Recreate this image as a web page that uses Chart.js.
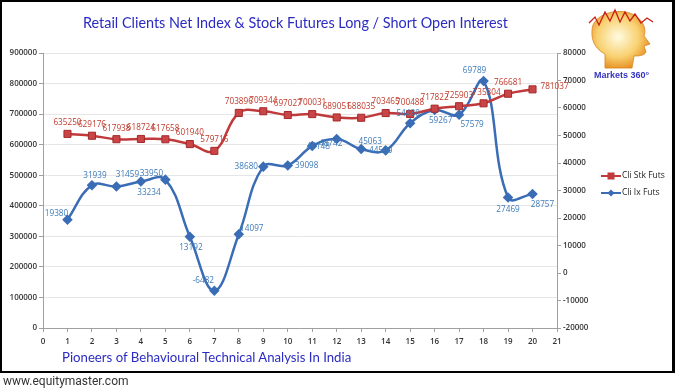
<!DOCTYPE html>
<html>
<head>
<meta charset="utf-8">
<script src="https://cdn.jsdelivr.net/npm/chart.js@4.4.0/dist/chart.umd.min.js"></script>
<style>
body { margin: 0; background: #fff; }
#wrap { position: relative; width: 675px; height: 391px; overflow: hidden; background: #fff; }
#chart { position: absolute; left: 0; top: 0; }
#frame { position: absolute; left: 0; top: 0; width: 675px; height: 373px; box-sizing: border-box;
  border: 2px solid #000; border-right-width: 3px; pointer-events: none; }
.txt { position: absolute; white-space: nowrap; }
#title { left: 83px; top: 14px; font: 14.4px Lato, sans-serif; color: #2b2bc4; }
#tagline { left: 62px; top: 349px; font: 13.2px Lato, sans-serif; color: #2b2bc4; }
#url { left: 3px; top: 374px; font: 12px Roboto, sans-serif; color: #333; }
#brand { left: 594px; top: 70px; font: bold 9px "Liberation Sans", sans-serif; color: #3535c0; }
#logo { position: absolute; left: 585px; top: 6px; }
</style>
</head>
<body>
<div id="wrap">
  <canvas id="chart" width="675" height="391"></canvas>
  <div id="frame"></div>
  <div id="title" class="txt">Retail Clients Net Index &amp; Stock Futures Long / Short Open Interest</div>
  <div id="tagline" class="txt">Pioneers of Behavioural Technical Analysis In India</div>
  <div id="url" class="txt">www.equitymaster.com</div>
  <svg id="logo" width="72" height="64" viewBox="0 0 72 64">
    <defs>
      <radialGradient id="hg" cx="45%" cy="45%" r="60%">
        <stop offset="0" stop-color="#fffbe0"/>
        <stop offset="0.6" stop-color="#f8d070"/>
        <stop offset="1" stop-color="#e58a1a"/>
      </radialGradient>
    </defs>
    <path d="M20 62 L20 48 C8 42 5 30 8 19 C14 5 40 1 52 11 C60 17 61 25 59 30 L65 38 L59 40 L61 46 C59 50 53 50 49 50 L47 62 Z" fill="url(#hg)" stroke="#d8841c" stroke-width="0.8"/>
    <polyline points="4,17 10,11 14,19 20,6 25,15 30,4 35,16 40,6 45,15 50,8 56,17 62,12 68,16" fill="none" stroke="#c8201a" stroke-width="1.3"/>
  </svg>
  <div id="brand" class="txt">Markets 360°</div>
</div>
<script>
const xValues = [1, 2, 3, 4, 5, 6, 7, 8, 9, 10, 11, 12, 13, 14, 15, 16, 17, 18, 19, 20];
const stkFuts = [635250, 629176, 617938, 618724, 617658, 601940, 579716, 703896, 709344, 697027,
                 700031, 689051, 688035, 703465, 700488, 717822, 725903, 735304, 766681, 781037];
const ixFuts = [19380, 31939, 31459, 33234, 33950, 13192, -6482, 14097, 38680, 39098,
                46148, 48742, 45063, 44590, 54480, 59267, 57579, 69789, 27469, 28757];
const seriesNames = ['Cli Stk Futs', 'Cli Ix Futs'];

// label offsets from the point (text centre), per point
const stkLabelOffsets = [[0,-11],[0,-11],[0,-11],[0,-11],[0,-11],[0,-11],[0,-11],[0,-11],[0,-11],[0,-11],
                         [0,-11],[0,-11],[0,-11],[0,-11],[0,-11],[0,-11],[0,-11],[3,-11],[0,-11],[22,-3]];
const ixLabelOffsets = [[-11,-6],[3,-10],[11,-12],[8,11],[-14,-6],[1,11],[-11,-10],[13,-6],[-17,0],[19,0],
                        [6,1],[-6,5],[9,-7],[-5,0],[-2,-10],[6,11],[13,10],[-9,-10],[0,12],[10,11]];

const RED = '#c0393b';
const BLUE = '#3a6db5';

const toPoints = ys => xValues.map((x, i) => ({ x: x, y: ys[i] }));

function legendIcon(color, style, r) {
  const c = document.createElement('canvas');
  c.width = 20; c.height = 10;
  const g = c.getContext('2d');
  g.strokeStyle = color; g.lineWidth = 2;
  g.beginPath(); g.moveTo(0, 5); g.lineTo(20, 5); g.stroke();
  g.fillStyle = color;
  if (style === 'rect') g.fillRect(10 - r, 5 - r, 2 * r, 2 * r);
  else { g.beginPath(); g.moveTo(10, 5 - r); g.lineTo(10 + r, 5); g.lineTo(10, 5 + r); g.lineTo(10 - r, 5); g.closePath(); g.fill(); }
  return c;
}

const labelPlugin = {
  id: 'pointLabels',
  afterDatasetsDraw(chart) {
    const ctx = chart.ctx;
    const offsets = [stkLabelOffsets, ixLabelOffsets];
    const colors = ['#c0392b', '#3d7ab8'];
    ctx.save();
    ctx.font = '8.2px "Open Sans"';
    ctx.textAlign = 'center';
    ctx.textBaseline = 'middle';
    [1, 0].forEach(i => {
      const meta = chart.getDatasetMeta(i);
      const ds = chart.data.datasets[i];
      ctx.fillStyle = colors[i];
      meta.data.forEach((pt, j) => {
        ctx.fillText(String(ds.data[j].y), pt.x + offsets[i][j][0], pt.y + offsets[i][j][1]);
      });
    });
    ctx.restore();
  },
  afterDraw(chart) {
    // legend at the right of the plot
    const ctx = chart.ctx;
    const x = chart.chartArea.right + 44;
    const icons = [legendIcon(RED, 'rect', 3.5), legendIcon(BLUE, 'diamond', 3.5)];
    ctx.save();
    ctx.font = '8.5px "Open Sans"';
    ctx.fillStyle = '#222';
    ctx.textBaseline = 'middle';
    seriesNames.forEach((name, i) => {
      const y = 176 + i * 17;
      ctx.drawImage(icons[i], x, y - 5);
      ctx.fillText(name, x + 21, y);
    });
    ctx.restore();
  }
};

const tickFont = { family: 'Open Sans', size: 8, weight: '600' };
const plain = v => String(v);

new Chart(document.getElementById('chart'), {
  type: 'line',
  data: {
    datasets: [
      {
        label: seriesNames[0],
        data: toPoints(stkFuts),
        yAxisID: 'y',
        borderColor: RED,
        backgroundColor: '#c94548',
        pointBorderColor: '#a52a2a',
        pointBorderWidth: 1,
        pointStyle: 'rect',
        pointRadius: 5,
        borderWidth: 2.5,
        tension: 0.4
      },
      {
        label: seriesNames[1],
        data: toPoints(ixFuts),
        yAxisID: 'y1',
        borderColor: BLUE,
        backgroundColor: BLUE,
        pointBorderColor: BLUE,
        pointStyle: 'rectRot',
        pointRadius: 3.5,
        borderWidth: 2.5,
        tension: 0.4
      }
    ]
  },
  options: {
    responsive: false,
    animation: false,
    layout: { padding: { left: 3, top: 53, right: 73, bottom: 43 } },
    plugins: {
      legend: { display: false },
      tooltip: { enabled: false }
    },
    scales: {
      x: {
        type: 'linear',
        min: 0,
        max: 21,
        afterFit: s => { s.height = 20; },
        ticks: { stepSize: 1, color: '#333', font: tickFont, padding: 5, maxRotation: 0, callback: plain },
        grid: { drawOnChartArea: false, tickLength: 4, color: '#a0a0a0' },
        border: { color: '#a0a0a0' }
      },
      y: {
        position: 'left',
        min: 0,
        max: 900000,
        afterFit: s => { s.width = 40; },
        ticks: { stepSize: 100000, color: '#333', font: tickFont, padding: 2, callback: plain },
        grid: { color: '#e6e6e6', tickColor: '#a0a0a0', tickLength: 4 },
        border: { color: '#a0a0a0' }
      },
      y1: {
        position: 'right',
        min: -20000,
        max: 80000,
        afterFit: s => { s.width = 45; },
        ticks: { stepSize: 10000, color: '#333', font: tickFont, padding: 2, callback: plain },
        grid: { drawOnChartArea: false, tickColor: '#a0a0a0', tickLength: 4 },
        border: { color: '#a0a0a0' }
      }
    }
  },
  plugins: [labelPlugin]
});
</script>
</body>
</html>
